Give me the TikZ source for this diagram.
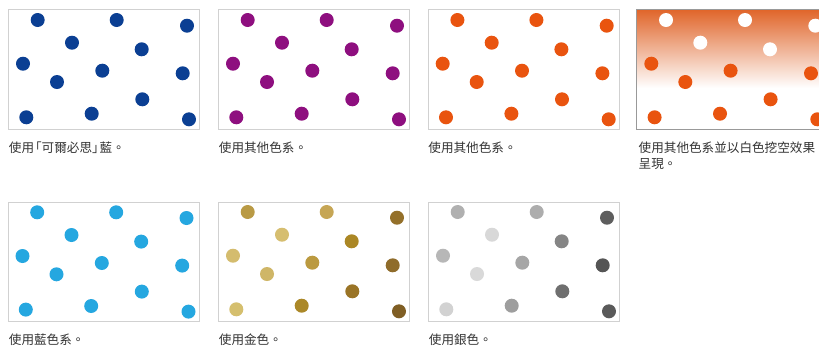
\documentclass[tikz,border=0pt]{standalone}
\usepackage{fontspec}
\setmainfont{Noto Sans CJK TC}
\definecolor{cblue}{HTML}{0B3F93}
\definecolor{cpurple}{HTML}{8E0F7F}
\definecolor{corange}{HTML}{E9540F}
\definecolor{clight}{HTML}{25A7E0}
\definecolor{gtop}{HTML}{E0652A}
\definecolor{gA}{HTML}{B99A45}\definecolor{gB}{HTML}{C6A655}\definecolor{gC}{HTML}{94702A}
\definecolor{gD}{HTML}{D6BE70}\definecolor{gE}{HTML}{AB8725}\definecolor{gF}{HTML}{D4BC6E}
\definecolor{gG}{HTML}{BB9A40}\definecolor{gH}{HTML}{8F6C2B}\definecolor{gI}{HTML}{CFB667}
\definecolor{gJ}{HTML}{9A7426}\definecolor{gK}{HTML}{D5BF6E}\definecolor{gL}{HTML}{AB8828}
\definecolor{gM}{HTML}{7F5E24}
\definecolor{sA}{HTML}{B0B0B0}\definecolor{sB}{HTML}{ADADAD}\definecolor{sC}{HTML}{5E5E5E}
\definecolor{sD}{HTML}{D8D8D8}\definecolor{sE}{HTML}{858585}\definecolor{sF}{HTML}{B7B7B7}
\definecolor{sG}{HTML}{A6A6A6}\definecolor{sH}{HTML}{555555}\definecolor{sI}{HTML}{D9D9D9}
\definecolor{sJ}{HTML}{6F6F6F}\definecolor{sK}{HTML}{D2D2D2}\definecolor{sL}{HTML}{9E9E9E}
\definecolor{sM}{HTML}{5A5A5A}
\tikzset{
  panel/.style={draw=black!18,line width=1pt},
  dotmark/.style={circle,minimum size=14pt,inner sep=0pt,outer sep=0pt},
  captext/.style={anchor=north west,inner sep=0pt,font=\fontsize{12.6}{16}\selectfont,text=black!80,align=left}
}
% one colour for all thirteen dots; #1 = x offset, #2 = y offset, #3 = name prefix, #4 = colour
\newcommand{\dotset}[4]{%
  \foreach \px/\py [count=\n] in {
    37.7/20,116.7/20,187/25.7,72/42.7,141.7/49.3,23/63.7,
    102.3/70.7,182.7/73.3,57/82,142.3/99.3,26.3/117.3,91.7/113.7,189/119.3}
      \node[dotmark,fill=#4] (#3\n) at (\px+#1,\py+#2) {};
}
\begin{document}
\begin{tikzpicture}[x=1pt,y=-1pt]
\useasboundingbox (0,0) rectangle (819,349);
\clip (0,0) rectangle (819,349);
\fill[white] (0,0) rectangle (819,349);
% top row
\draw[panel] (8.7,9.5) rectangle (199.7,129);
\dotset{0}{0}{a}{cblue}
\node[captext] (ta) at (8.7,141.4) {使用\kern-5pt「可爾必思」\kern-5pt藍。};
\draw[panel] (218.7,9.5) rectangle (409.7,129);
\dotset{210}{0}{b}{cpurple}
\node[captext] (tb) at (218.7,141.4) {使用其他色系。};
\draw[panel] (428.7,9.5) rectangle (619.7,129);
\dotset{419.7}{0}{c}{corange}
\node[captext] (tc) at (428.2,141.4) {使用其他色系。};
\shade[top color=gtop,bottom color=white] (636.7,9.5) rectangle (828,88);
\draw[draw=black!40,line width=1pt] (828,9.5) -- (636.7,9.5) -- (636.7,129) -- (828,129);
\foreach \px/\py [count=\n] in {37.7/20,116.7/20,187/25.7,72/42.7,141.7/49.3}
  \node[dotmark,fill=white] (d\n) at (\px+628.3,\py) {};
\foreach \px/\py [count=\n from 6] in {23/63.7,102.3/70.7,182.7/73.3,57/82,142.3/99.3,26.3/117.3,91.7/113.7,189/119.3}
  \node[dotmark,fill=corange] (d\n) at (\px+628.3,\py) {};
\node[captext] (td) at (638.5,141.4) {使用其他色系並以白色挖空效果\\呈現。};
% bottom row
\draw[panel] (8.7,202) rectangle (199.7,321.5);
\dotset{-0.5}{192.3}{e}{clight}
\node[captext] (te) at (8.7,334) {使用藍色系。};
\draw[panel] (218.7,202) rectangle (409.7,321.5);
\foreach \px/\py/\cc [count=\n] in {
    37.7/20/gA,116.7/20/gB,187/25.7/gC,72/42.7/gD,141.7/49.3/gE,23/63.7/gF,
    102.3/70.7/gG,182.7/73.3/gH,57/82/gI,142.3/99.3/gJ,26.3/117.3/gK,91.7/113.7/gL,189/119.3/gM}
  \node[dotmark,fill=\cc] (f\n) at (\px+210,\py+192) {};
\node[captext] (tf) at (218.7,334) {使用金色。};
\draw[panel] (428.7,202) rectangle (619.7,321.5);
\foreach \px/\py/\cc [count=\n] in {
    37.7/20/sA,116.7/20/sB,187/25.7/sC,72/42.7/sD,141.7/49.3/sE,23/63.7/sF,
    102.3/70.7/sG,182.7/73.3/sH,57/82/sI,142.3/99.3/sJ,26.3/117.3/sK,91.7/113.7/sL,189/119.3/sM}
  \node[dotmark,fill=\cc] (g\n) at (\px+420,\py+192) {};
\node[captext] (tg) at (428.7,334) {使用銀色。};
\end{tikzpicture}
\end{document}
